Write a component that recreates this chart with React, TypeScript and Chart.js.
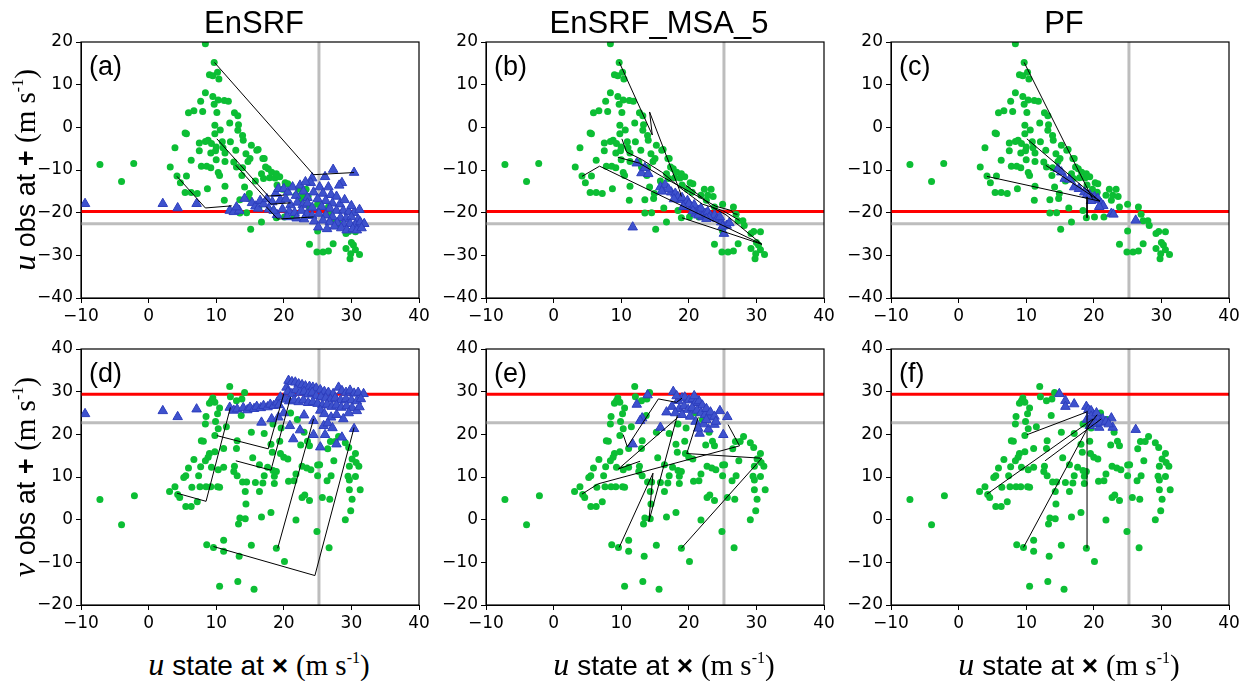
import React, { useEffect, useRef } from "react";
import { Chart, registerables } from "chart.js";
Chart.register(...registerables);

type P = [number, number];

const xTicks = [-10, 0, 10, 20, 30, 40];
const topYTicks = [-40, -30, -20, -10, 0, 10, 20];
const bottomYTicks = [-20, -10, 0, 10, 20, 30, 40];
const titles = ["EnSRF", "EnSRF_MSA_5", "PF"];
const letters = ["(a)", "(b)", "(c)", "(d)", "(e)", "(f)"];

const truthX = 25.2;
const obsTopRed = -19.7;
const truthTopGray = -22.6;
const obsBottomRed = 29.4;
const truthBottomGray = 22.7;

// prior members: u state vs u obs (top row)
const priorU: P[] = [
  [8.4,19.6],[9.7,15.2],[9.0,12.3],[9.5,12.1],[10.4,11.3],[10.2,12.9],
  [8.4,8.1],[9.5,7.2],[10.3,6.4],[9.7,5.4],[11.2,6.3],[11.8,6.1],[7.7,6.1],
  [6.7,3.9],[5.9,3.4],[8.0,3.7],[10.1,3.5],[12.7,3.4],[13.2,2.7],
  [9.8,0.5],[10.6,-0.6],[9.8,-1.5],[12.0,1.0],[13.3,0.6],[13.2,-0.7],[13.9,-1.9],[14.0,-3.0],
  [5.4,-1.3],[5.6,-1.5],
  [7.5,-3.7],[8.4,-3.3],[8.8,-3.0],[9.3,-3.8],[10.9,-3.4],[10.0,-4.6],[11.0,-4.8],[12.1,-3.4],
  [3.9,-4.8],
  [7.5,-5.5],[9.2,-6.0],[9.9,-5.5],[11.3,-6.0],[12.9,-5.4],[15.2,-4.2],[16.2,-5.2],
  [6.3,-7.7],[10.0,-7.6],[11.3,-8.0],[14.4,-6.2],[15.0,-7.3],[17.1,-7.3],[14.7,-8.0],
  [3.2,-9.3],[7.8,-9.1],[8.6,-9.1],[9.2,-9.5],[10.3,-10.6],[12.6,-8.1],[13.0,-9.3],[13.9,-9.5],[13.8,-11.3],
  [4.2,-11.4],[5.6,-11.4],[4.7,-13.0],[8.7,-14.4],[6.3,-15.3],[5.4,-15.3],[7.2,-15.5],
  [10.5,-11.3],[11.3,-13.8],[14.2,-14.0],[15.8,-12.6],[16.7,-10.9],[17.0,-12.0],[17.9,-11.8],[18.7,-11.9],[19.4,-11.6],[20.2,-13.0],[20.6,-13.2],[14.9,-15.5],
  [11.2,-17.1],[13.5,-17.0],[14.8,-16.7],[16.3,-18.9],[16.7,-22.2],[15.1,-23.9],[13.5,-20.1],[14.5,-20.0],[18.4,-19.5],[18.9,-21.2],[20.1,-21.0],[21.5,-21.0],
  [22.3,-14.5],[23.3,-14.5],[21.8,-15.9],[22.8,-15.9],[23.6,-16.2],[22.6,-17.1],[23.8,-18.7],[25.0,-18.0],[26.6,-18.7],[27.0,-20.4],[27.3,-21.9],[28.0,-21.9],[28.2,-23.0],
  [25.0,-24.3],[23.8,-27.4],[24.9,-29.2],[25.8,-29.2],[26.6,-29.0],[27.3,-27.3],[29.2,-24.9],[29.6,-24.4],[30.6,-24.5],[29.2,-28.4],[30.0,-27.0],[30.3,-27.6],[30.6,-28.7],[31.2,-29.8],[29.9,-29.6],[29.8,-30.8],
  [-7.2,-8.7],[-2.2,-8.5],[-4.0,-12.7],
  [17.7,-9.7],[18.2,-10.5],[18.9,-10.9],[16.0,-5.4],[16.9,-7.3],[17.3,-9.3],[19.0,-13.5],[19.8,-14.5],[20.5,-15.2],
];

// prior members: u state vs v obs (bottom row)
const priorV: P[] = [
  [-7.2,4.7],[-2.1,5.6],[-4.0,-1.2],
  [12.0,31.2],[12.1,28.8],[9.5,28.5],[9.3,27.9],[9.0,27.3],[9.8,27.5],[10.5,26.2],[10.2,24.8],[9.9,23.0],[8.5,24.2],[8.4,22.4],[10.3,21.3],[11.5,21.8],[13.7,24.4],[13.0,27.9],[13.8,28.3],[14.2,29.8],[9.8,19.7],[7.8,18.5],[8.1,18.4],[11.1,16.7],[13.0,16.7],[15.2,20.5],[17.1,20.2],[18.4,22.4],[13.1,18.5],[15.4,14.5],
  [9.0,15.5],[9.8,15.9],[8.8,14.6],[8.4,13.8],[6.7,14.1],[5.9,12.1],[7.7,12.4],[9.3,12.3],[10.3,11.7],[11.1,12.3],[12.7,12.5],[12.6,11.3],[13.1,10.3],[13.9,8.8],[14.5,8.8],[15.8,8.7],[16.9,8.6],[18.6,8.5],
  [5.5,10.3],[5.2,9.9],[7.4,10.3],[6.4,7.6],[7.6,7.7],[8.5,7.7],[9.2,7.7],[10.2,7.7],[10.5,7.6],[3.1,6.6],[3.9,7.7],[4.6,5.2],[4.3,5.9],[5.5,3.1],[6.3,3.1],[7.2,4.2],
  [14.3,6.6],[16.4,6.6],[14.4,3.7],[14.3,0.2],[13.5,0.4],[13.3,-1.0],[16.7,0.6],[18.1,1.7],[11.1,-4.8],[8.6,-5.9],[9.6,-6.5],[11.1,-7.4],[13.4,-8.6],[15.2,-6.0],[18.9,-6.7],[20.1,-9.8],[10.5,-15.6],[13.2,-14.5],[15.6,-16.3],
  [16.4,12.9],[17.1,10.3],[18.4,11.5],[18.9,11.3],[18.6,10.2],[17.6,12.3],[18.3,15.8],[19.5,15.5],[20.0,14.6],[20.6,14.2],[18.1,17.7],[19.4,18.4],
  [20.7,9.0],[21.5,9.1],[21.8,10.7],[22.7,12.5],[23.4,12.1],[24.0,11.7],[22.7,5.2],[23.1,5.8],[23.8,4.5],[21.8,-0.1],[22.5,17.5],[23.5,18.4],[23.8,17.3],
  [25.0,12.8],[25.3,12.9],[25.0,10.3],[25.7,5.2],[24.9,-2.8],[26.7,-6.6],[26.4,9.1],[27.0,10.3],[26.8,4.8],[26.5,16.6],[26.9,18.3],[27.6,18.3],[28.1,19.5],[27.4,13.8],[29.1,18.0],[29.6,16.9],[29.7,12.5],[29.5,10.2],[29.7,9.3],[30.6,15.5],[30.1,14.2],[30.7,13.4],[31.1,12.5],[30.6,10.1],[31.3,7.0],[29.7,7.0],[30.1,4.8],[29.9,2.1],[29.1,0.0],
  [19.6,21.5],[22.0,23.5],[21.0,25.0],[23.0,20.5],
];

// posterior members (triangles)
const postA: P[] = [
  [-9.4,-17.9],[2.1,-17.9],[4.3,-18.9],[7.1,-17.9],
  [12.0,-19.5],[12.6,-19.8],[13.4,-19.5],[13.0,-18.7],[14.2,-16.7],[15.3,-17.7],[15.8,-18.5],[16.5,-17.2],[16.2,-19.0],[17.0,-18.0],[17.5,-16.8],[17.8,-19.2],[18.3,-17.5],
  [18.8,-15.5],[19.2,-14.4],[20.0,-14.4],[20.6,-15.2],[21.3,-14.0],[22.4,-13.6],[21.8,-16.0],[22.9,-15.0],[23.5,-16.5],[24.4,-15.2],[19.5,-17.0],[20.3,-16.8],[21.0,-18.2],[22.0,-17.6],[22.8,-18.2],[23.5,-17.8],[24.2,-18.8],[19.8,-19.2],[20.8,-19.7],[21.6,-20.0],[22.6,-19.5],[23.4,-20.3],[24.2,-20.7],[20.5,-21.0],[21.9,-21.3],[23.0,-21.5],[24.5,-22.0],[19.0,-20.5],[18.5,-19.5],
  [24.2,-11.9],[26.1,-11.6],[27.3,-9.9],[30.4,-10.6],[28.6,-13.0],[28.2,-13.6],[26.6,-14.0],[25.3,-14.0],[25.8,-15.5],[27.0,-15.8],[27.8,-16.2],[25.0,-16.8],[26.2,-17.2],[27.2,-17.8],[28.3,-18.0],[25.6,-18.6],[26.8,-19.0],[27.8,-19.5],[28.8,-19.5],[29.6,-19.8],[30.4,-20.0],[25.2,-20.2],[26.2,-20.6],[27.2,-21.0],[28.4,-21.2],[29.2,-21.4],[30.0,-21.0],[31.0,-21.6],[25.8,-21.8],[26.8,-22.2],[27.9,-22.4],[28.9,-22.7],[29.8,-22.6],[30.6,-22.9],[31.3,-22.2],[31.9,-22.6],[25.1,-23.4],[26.4,-23.8],[27.5,-23.2],[28.5,-23.6],[29.3,-24.1],[30.2,-23.8],[30.8,-24.1],[31.5,-23.6],[29.0,-17.0],[30.0,-18.4],[31.2,-19.3],[24.0,-13.0],[23.2,-12.8],
];
const postB: P[] = [
  [11.7,-23.4],[12.3,-8.4],[13.0,-10.7],[14.0,-10.9],[13.5,-9.5],[15.8,-14.0],[16.5,-13.5],[17.4,-15.2],[17.0,-14.5],[18.0,-15.5],[18.4,-16.3],[18.8,-17.0],[19.4,-17.9],[19.0,-16.5],[19.8,-17.2],[20.4,-18.7],[20.0,-18.0],[20.8,-18.2],[21.4,-19.5],[21.0,-20.2],[21.8,-19.0],[22.4,-20.2],[22.0,-21.0],[22.8,-19.8],[23.2,-20.8],[23.8,-20.6],[21.4,-20.6],[23.0,-21.2],[24.2,-21.4],[24.8,-22.2],[25.2,-24.9],[25.6,-23.0],[25.0,-23.2],[26.0,-22.4],[24.6,-21.0],[19.2,-18.6],[17.8,-16.8],[16.0,-15.0],[20.6,-19.6],[22.6,-21.4],
];
const postC: P[] = [
  [14.7,-9.7],[15.2,-10.5],[15.7,-12.0],[16.4,-12.2],[17.1,-14.0],[17.8,-14.4],[18.6,-15.2],[19.0,-15.8],[19.4,-15.9],[19.8,-16.6],[20.1,-16.3],[20.4,-17.0],[20.6,-16.7],[21.1,-17.9],[21.4,-18.4],[19.6,-17.2],[20.8,-18.6],[22.6,-20.2],[22.9,-20.4],[26.2,-21.8],
];
const postD: P[] = [
  [-9.4,24.8],[2.1,25.5],[4.3,24.1],[7.1,25.9],
  [12.0,26.3],[12.6,25.6],[13.1,25.9],[14.0,26.2],[14.6,25.7],[15.0,26.3],[15.6,26.0],[16.0,26.5],[16.6,26.2],[17.0,26.7],[17.6,26.4],[18.0,27.0],[18.5,26.7],[19.0,27.5],[19.5,28.7],[19.3,26.9],
  [20.4,31.0],[20.7,32.6],[21.2,32.3],[21.7,32.2],[22.2,31.8],[22.7,31.6],[23.2,31.3],[23.8,31.2],[24.3,31.0],[24.8,30.8],[25.4,30.4],[26.0,30.0],[26.6,29.8],[27.3,29.5],[28.1,31.0],[28.6,30.2],[29.2,29.8],[29.8,30.3],[30.4,29.6],[31.0,29.8],[31.8,29.5],
  [20.6,30.0],[21.2,29.5],[21.8,30.4],[22.4,29.8],[23.0,30.0],[23.6,29.4],[24.2,29.8],[24.8,29.0],[25.5,28.8],[26.2,28.5],[26.9,28.2],[27.6,28.5],[28.4,28.0],[29.2,28.3],[30.0,28.0],[30.8,27.8],[31.4,28.3],
  [20.2,28.2],[20.8,27.8],[21.5,28.0],[22.2,27.6],[22.9,28.0],[23.6,27.4],[24.3,27.6],[25.0,27.2],[25.7,26.8],[26.4,27.0],[27.1,26.5],[27.8,26.8],[28.5,26.3],[29.3,26.6],[30.1,26.2],[30.8,25.5],[31.2,26.4],
  [25.4,25.6],[26.0,24.8],[27.0,24.0],[27.8,24.6],[29.6,25.0],[28.8,23.6],
  [16.7,22.8],[18.2,23.6],[19.2,24.0],[20.9,22.0],[24.4,23.2],[25.9,22.0],[26.5,22.6],[21.4,18.9],[24.4,19.9],[26.1,19.9],[25.4,17.0],[27.8,17.7],[30.4,21.3],[28.6,19.3],[27.2,21.5],[22.4,21.0],[20.0,25.0],[23.0,24.5],
];
const postE: P[] = [
  [17.7,30.0],[13.9,29.2],[12.3,27.0],[13.1,23.8],[12.8,23.2],[11.7,17.7],[15.8,21.6],[16.7,25.2],[17.5,26.5],[18.4,27.9],[19.0,28.5],[19.4,28.7],[20.0,28.0],[20.6,28.3],[21.0,27.4],[21.5,27.8],[22.0,26.8],[18.6,26.0],[19.3,26.6],[19.9,25.8],[20.5,26.2],[21.2,25.6],[21.8,25.0],[22.4,24.6],[23.0,24.0],[22.6,26.0],[23.2,25.2],[23.8,24.2],[24.6,25.5],[25.7,24.1],[25.1,19.9],[21.6,20.2],[22.9,21.2],[23.8,22.3],[22.2,22.4],[21.0,23.0],[20.2,24.2],[19.0,24.6],[18.0,25.0],[21.4,21.4],[22.6,23.4],[24.0,23.0],[20.8,29.0],[18.2,29.0],
];
const postF: P[] = [
  [14.9,29.5],[15.8,27.9],[15.8,26.5],[17.1,27.1],[18.9,26.5],[19.2,25.8],[19.6,25.5],[20.1,24.4],[20.6,23.8],[21.3,23.6],[22.6,23.8],[22.8,21.6],[20.8,21.6],[19.4,22.0],[26.2,21.1],[19.0,23.5],[19.8,23.0],[20.3,22.5],[21.0,22.8],[21.8,23.0],[22.2,22.4],[19.6,24.2],[20.4,25.0],
];

// member trajectories (black lines)
const pathsA: P[][] = [
  [[9.75,15.2],[24.4,-11.1],[30.4,-10.6]],
  [[4.2,-11.5],[8.4,-18.9],[12.3,-18.4]],
  [[10.1,-2.7],[17.7,-16.1],[20.0,-15.9]],
  [[12.9,-8.9],[18.1,-18.0],[21.0,-17.7]],
  [[17.4,-18.6],[19.1,-21.5],[24.4,-21.0]],
];
const pathsB: P[][] = [
  [[9.7,15.3],[14.6,-1.8],[14.2,3.6],[18.6,-14.6],[18.9,-16.2]],
  [[10.1,-2.7],[10.8,-5.8],[13.0,-7.5],[16.0,-10.5],[19.0,-14.5],[22.0,-18.0],[25.0,-19.5],[27.5,-21.8]],
  [[9.5,-7.0],[12.7,-8.4],[16.0,-11.5],[20.0,-15.0],[24.0,-18.5],[26.3,-19.5],[26.6,-20.2],[27.2,-20.4]],
  [[4.2,-11.5],[6.8,-9.1],[30.8,-27.4],[19.0,-21.2]],
  [[19.5,-13.5],[22.0,-16.5],[23.5,-18.8],[25.5,-20.5],[30.8,-27.4]],
];
const pathsC: P[][] = [
  [[9.7,15.2],[19.8,-16.7]],
  [[10.1,-2.7],[20.9,-17.3]],
  [[12.9,-8.9],[20.9,-17.3]],
  [[4.2,-11.5],[20.9,-17.3]],
  [[19.0,-16.3],[19.0,-21.2]],
];
const pathsD: P[][] = [
  [[4.2,6.2],[8.5,4.3],[12.1,26.3]],
  [[10.1,19.7],[17.7,16.6],[20.0,29.5]],
  [[12.9,13.8],[18.1,11.6],[21.0,28.7]],
  [[19.1,-6.7],[24.4,23.6]],
  [[9.6,-6.3],[24.6,-13.1],[30.4,21.6]],
];
const pathsE: P[][] = [
  [[9.7,-6.5],[14.7,10.9],[14.1,-0.4],[18.3,24.4]],
  [[4.2,6.0],[6.6,8.4],[27.5,17.3],[25.8,22.3]],
  [[18.9,-6.7],[30.8,14.4],[19.7,15.5],[21.4,24.0]],
  [[10.3,19.9],[10.9,17.1],[15.5,28.3],[18.2,27.5],[19.0,28.5]],
  [[12.8,13.7],[9.6,11.9],[18.4,24.0]],
];
const pathsF: P[][] = [
  [[10.1,19.9],[18.9,25.2]],
  [[4.2,6.0],[19.9,23.6]],
  [[12.8,13.8],[21.1,23.6]],
  [[9.6,-6.5],[19.4,22.4]],
  [[19.0,-6.7],[19.0,25.5]],
  [[19.2,22.0],[20.5,24.6]],
];

const PLOT_W = 338;
const PLOT_H = 256;
const PAD_L = 70;
const PAD_T = 15;
const PAD_R = 25;
const PAD_B = 35;
const colLefts = [81, 486, 891];
const rowTops = [42, 349];

const fmt = (v: number) => (v < 0 ? "\u2212" + Math.abs(v) : String(v));

const boxPlugin = {
  id: "box",
  afterDraw(chart: any) {
    const { ctx, chartArea } = chart;
    ctx.save();
    ctx.strokeStyle = "#000";
    ctx.lineWidth = 1.2;
    ctx.strokeRect(chartArea.left, chartArea.top, chartArea.right - chartArea.left, chartArea.bottom - chartArea.top);
    ctx.restore();
  },
};

type PanelProps = {
  left: number;
  top: number;
  prior: P[];
  post: P[];
  paths: P[][];
  yTicks: number[];
  redY: number;
  grayY: number;
};

function Panel({ left, top, prior, post, paths, yTicks, redY, grayY }: PanelProps) {
  const ref = useRef<HTMLCanvasElement | null>(null);
  useEffect(() => {
    if (!ref.current) return;
    const yMin = yTicks[0];
    const yMax = yTicks[yTicks.length - 1];
    const xMin = xTicks[0];
    const xMax = xTicks[xTicks.length - 1];
    const toXY = (a: P[]) => a.map(([x, y]) => ({ x, y }));
    const datasets: any[] = [
      ...paths.map((p) => ({
        data: toXY(p),
        showLine: true,
        borderColor: "#000",
        borderWidth: 1,
        pointRadius: 0,
        fill: false,
        order: 1,
      })),
      {
        data: toXY(post),
        pointStyle: "triangle",
        pointRadius: 5.5,
        backgroundColor: "rgb(62,82,205)",
        borderColor: "rgb(45,62,190)",
        borderWidth: 1,
        order: 2,
      },
      {
        data: toXY(prior),
        pointStyle: "circle",
        pointRadius: 3.5,
        backgroundColor: "rgb(12,190,52)",
        borderWidth: 0,
        order: 3,
      },
      {
        data: [{ x: xMin, y: redY }, { x: xMax, y: redY }],
        showLine: true,
        borderColor: "#ff0000",
        borderWidth: 3,
        pointRadius: 0,
        order: 4,
      },
      {
        data: [{ x: xMin, y: grayY }, { x: xMax, y: grayY }],
        showLine: true,
        borderColor: "#bdbdbd",
        borderWidth: 3,
        pointRadius: 0,
        order: 5,
      },
      {
        data: [{ x: truthX, y: yMin }, { x: truthX, y: yMax }],
        showLine: true,
        borderColor: "#bdbdbd",
        borderWidth: 3,
        pointRadius: 0,
        order: 5,
      },
    ];
    const tickFont = { family: "DejaVu Sans", size: 17 };
    const chart = new Chart(ref.current, {
      type: "scatter",
      data: { datasets },
      options: {
        animation: false,
        responsive: false,
        devicePixelRatio: 1,
        events: [],
        layout: { padding: { left: 0, top: PAD_T, right: PAD_R, bottom: 0 } },
        plugins: { legend: { display: false }, tooltip: { enabled: false } },
        scales: {
          x: {
            type: "linear",
            min: xMin,
            max: xMax,
            afterBuildTicks: (s: any) => {
              s.ticks = xTicks.map((v) => ({ value: v }));
            },
            afterFit: (s: any) => {
              s.height = PAD_B;
            },
            ticks: { color: "#000", font: tickFont, padding: 3, maxRotation: 0, autoSkip: false, callback: (v: any) => fmt(Number(v)) },
            grid: { drawOnChartArea: false, drawTicks: true, tickLength: 5, color: "#000" },
            border: { color: "#000", width: 1 },
          },
          y: {
            type: "linear",
            min: yMin,
            max: yMax,
            afterBuildTicks: (s: any) => {
              s.ticks = yTicks.map((v) => ({ value: v }));
            },
            afterFit: (s: any) => {
              s.width = PAD_L;
            },
            ticks: { color: "#000", font: tickFont, padding: 3, autoSkip: false, callback: (v: any) => fmt(Number(v)) },
            grid: { drawOnChartArea: false, drawTicks: true, tickLength: 5, color: "#000" },
            border: { color: "#000", width: 1 },
          },
        },
      } as any,
      plugins: [boxPlugin],
    });
    return () => chart.destroy();
  }, []);
  return (
    <canvas
      ref={ref}
      width={PAD_L + PLOT_W + PAD_R}
      height={PAD_T + PLOT_H + PAD_B}
      style={{ position: "absolute", left: left - PAD_L, top: top - PAD_T, width: PAD_L + PLOT_W + PAD_R, height: PAD_T + PLOT_H + PAD_B }}
    />
  );
}

const sans = "'Liberation Sans', Arial, sans-serif";
const serif = "'Liberation Serif', 'Times New Roman', serif";

function Unit() {
  return (
    <span style={{ fontFamily: serif, fontSize: 29 }}>
      (m s<sup style={{ fontSize: 16, verticalAlign: 0, position: "relative", top: -12 }}>-1</sup>)
    </span>
  );
}

function YLabel({ cy, comp }: { cy: number; comp: string }) {
  return (
    <div
      style={{
        position: "absolute",
        left: 27,
        top: cy,
        transform: "translate(-50%, -50%) rotate(-90deg)",
        whiteSpace: "nowrap",
        fontFamily: sans,
        fontSize: 27,
        lineHeight: "34px",
        color: "#000",
      }}
    >
      <span style={{ fontFamily: serif, fontStyle: "italic", fontSize: 32 }}>{comp}</span> obs at <b>+</b> <Unit />
    </div>
  );
}

function XLabel({ cx }: { cx: number }) {
  return (
    <div
      style={{
        position: "absolute",
        left: cx,
        top: 667,
        transform: "translate(-50%, -50%)",
        whiteSpace: "nowrap",
        fontFamily: sans,
        fontSize: 28,
        lineHeight: "34px",
        color: "#000",
      }}
    >
      <span style={{ fontFamily: serif, fontStyle: "italic", fontSize: 32 }}>u</span> state at <b>×</b> <Unit />
    </div>
  );
}

export default function App() {
  const top = [
    { prior: priorU, post: postA, paths: pathsA },
    { prior: priorU, post: postB, paths: pathsB },
    { prior: priorU, post: postC, paths: pathsC },
  ];
  const bottom = [
    { prior: priorV, post: postD, paths: pathsD },
    { prior: priorV, post: postE, paths: pathsE },
    { prior: priorV, post: postF, paths: pathsF },
  ];
  return (
    <div style={{ position: "absolute", left: 0, top: 0, width: 1248, height: 681, overflow: "hidden", background: "#fff" }}>
      {top.map((p, i) => (
        <Panel key={"t" + i} left={colLefts[i]} top={rowTops[0]} prior={p.prior} post={p.post} paths={p.paths} yTicks={topYTicks} redY={obsTopRed} grayY={truthTopGray} />
      ))}
      {bottom.map((p, i) => (
        <Panel key={"b" + i} left={colLefts[i]} top={rowTops[1]} prior={p.prior} post={p.post} paths={p.paths} yTicks={bottomYTicks} redY={obsBottomRed} grayY={truthBottomGray} />
      ))}
      {titles.map((t, i) => (
        <div
          key={t}
          style={{ position: "absolute", left: colLefts[i] + PLOT_W / 2 + 4, top: 7, transform: "translateX(-50%)", fontFamily: sans, fontSize: 31, lineHeight: "31px", whiteSpace: "nowrap", color: "#000" }}
        >
          {t}
        </div>
      ))}
      {letters.map((l, i) => (
        <div
          key={l}
          style={{ position: "absolute", left: colLefts[i % 3] + 8, top: rowTops[Math.floor(i / 3)] + 11, fontFamily: sans, fontSize: 27, lineHeight: "27px", color: "#000" }}
        >
          {l}
        </div>
      ))}
      <YLabel cy={rowTops[0] + PLOT_H / 2} comp="u" />
      <YLabel cy={rowTops[1] + PLOT_H / 2} comp="v" />
      {colLefts.map((l, i) => (
        <XLabel key={i} cx={l + PLOT_W / 2 + 9} />
      ))}
    </div>
  );
}
